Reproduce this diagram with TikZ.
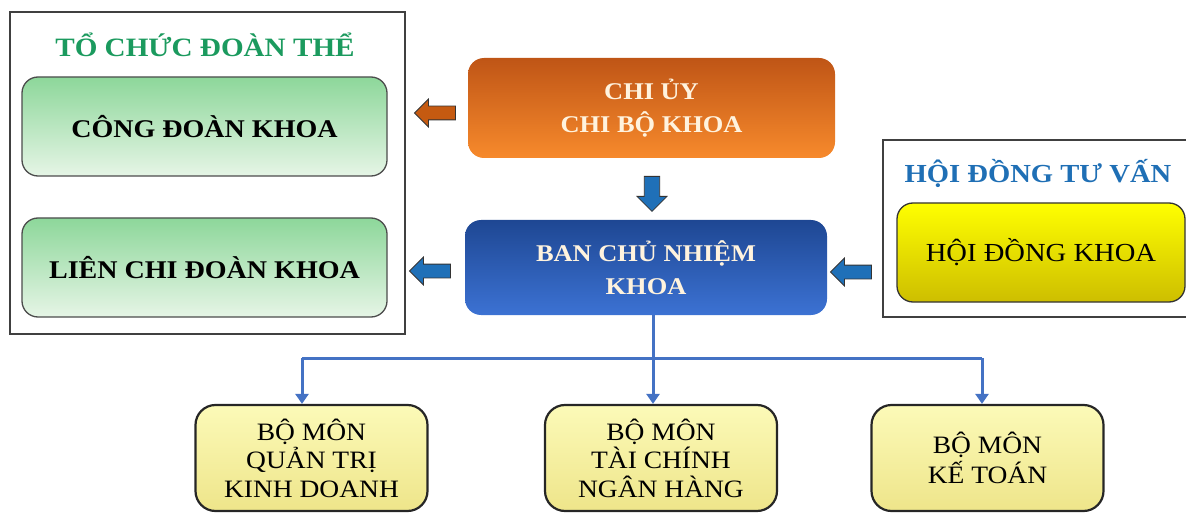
\documentclass[tikz,border=0pt]{standalone}
\usepackage{fontspec}
\setmainfont{Liberation Serif}[FakeStretch=1.1]
\usetikzlibrary{calc,shapes.arrows,arrows.meta}

\definecolor{grtop}{HTML}{8DD79A}
\definecolor{grbot}{HTML}{E6F5E6}
\definecolor{ortop}{HTML}{BF5516}
\definecolor{orbot}{HTML}{F78A2C}
\definecolor{bltop}{HTML}{1E4793}
\definecolor{blbot}{HTML}{3C72D3}
\definecolor{ylwtop}{HTML}{FFFF00}
\definecolor{ylwbot}{HTML}{CDBE00}
\definecolor{paletop}{HTML}{FCFAB8}
\definecolor{palebot}{HTML}{EEE58A}
\definecolor{titlegreen}{HTML}{1B9A5E}
\definecolor{titleblue}{HTML}{1F6FB5}
\definecolor{linkblue}{HTML}{4472C4}
\definecolor{arrblue}{HTML}{1F70B8}
\definecolor{arrorange}{HTML}{C55A11}
\definecolor{cream}{HTML}{FFF3DE}

\begin{document}
\begin{tikzpicture}[x=1pt,y=-1pt,
  frame/.style={draw=black!75,line width=1.2pt},
  greenbox/.style={draw=black!70,line width=1.3pt,rounded corners=16pt,
    top color=grtop,bottom color=grbot,minimum width=365pt,minimum height=99pt,
    font=\fontsize{25.5}{30}\selectfont\bfseries},
  topbox/.style={rounded corners=16pt,align=center,text=cream,
    font=\fontsize{24}{33}\selectfont\bfseries},
  deptbox/.style={draw=black!85,line width=2.2pt,rounded corners=20pt,
    top color=paletop,bottom color=palebot,align=center,
    minimum width=232pt,minimum height=106pt,
    font=\fontsize{25}{28.5}\selectfont},
  heading/.style={font=\fontsize{26.5}{30}\selectfont\bfseries},
  blockarrow/.style={single arrow,draw=black!80,line width=0.8pt,
    minimum height=41pt,minimum width=27pt,inner sep=6.5pt,
    single arrow head extend=7pt},
  link/.style={draw=linkblue,line width=3pt},
  linkarrow/.style={link,-{Triangle[width=13pt,length=10pt]}}]

  \useasboundingbox (0,0) rectangle (1186,513);

  % Left group: doan the
  \draw[frame] (10,12) rectangle (405,334);
  \node[heading,text=titlegreen] (tochuc) at (205,45) {TỔ CHỨC ĐOÀN THỂ};
  \node[greenbox] (congdoan) at (204.5,126.5) {CÔNG ĐOÀN KHOA};
  \node[greenbox] (liendoan) at (204.5,267.5) {LIÊN CHI ĐOÀN KHOA};

  % Right group: hoi dong
  \draw[frame] (883,140) rectangle (1192,317);
  \node[heading,text=titleblue,font=\fontsize{26}{30}\selectfont\bfseries]
    (tuvan) at (1038,173) {HỘI ĐỒNG TƯ VẤN};
  \node[draw=black!80,line width=1.3pt,rounded corners=16pt,
    top color=ylwtop,bottom color=ylwbot,minimum width=288pt,minimum height=99pt,
    font=\fontsize{26}{30}\selectfont] (hoidong) at (1041,252.5) {HỘI ĐỒNG KHOA};

  % Center boxes
  \node[topbox,top color=ortop,bottom color=orbot,
    minimum width=367pt,minimum height=100pt] (chiuy) at (651.5,108)
    {CHI ỦY\\CHI BỘ KHOA};
  \node[topbox,top color=bltop,bottom color=blbot,
    minimum width=362pt,minimum height=95pt] (ban) at (646,267.5)
    {BAN CHỦ NHIỆM\\KHOA};

  % Block arrows
  \node[blockarrow,fill=arrorange,shape border rotate=180] (a1) at (438.5,113) {};
  \node[blockarrow,fill=arrblue,shape border rotate=180] (a2) at (433.5,271) {};
  \node[blockarrow,fill=arrblue,shape border rotate=180] (a3) at (854.5,272) {};
  \node[blockarrow,fill=arrblue,shape border rotate=270,minimum height=35pt,
    minimum width=30pt,inner sep=7pt] (a4) at (652,190) {};

  % Departments
  \node[deptbox] (qtkd) at (311.5,458) {BỘ MÔN\\QUẢN TRỊ\\KINH DOANH};
  \node[deptbox] (tcnh) at (661,458) {BỘ MÔN\\TÀI CHÍNH\\NGÂN HÀNG};
  \node[deptbox,font=\fontsize{25}{30}\selectfont] (ketoan) at (987.5,458)
    {BỘ MÔN\\KẾ TOÁN};

  % Connectors
  \coordinate (busL) at (302,358);
  \coordinate (busM) at (653,358);
  \coordinate (busR) at (982,358);
  \draw[link] (ban.south -| busM) -- (busM);
  \draw[link] (busL) -- (busR);
  \draw[linkarrow] (busL) -- (busL |- qtkd.north);
  \draw[linkarrow] (busM) -- (busM |- tcnh.north);
  \draw[linkarrow] (busR) -- (busR |- ketoan.north);
\end{tikzpicture}
\end{document}
